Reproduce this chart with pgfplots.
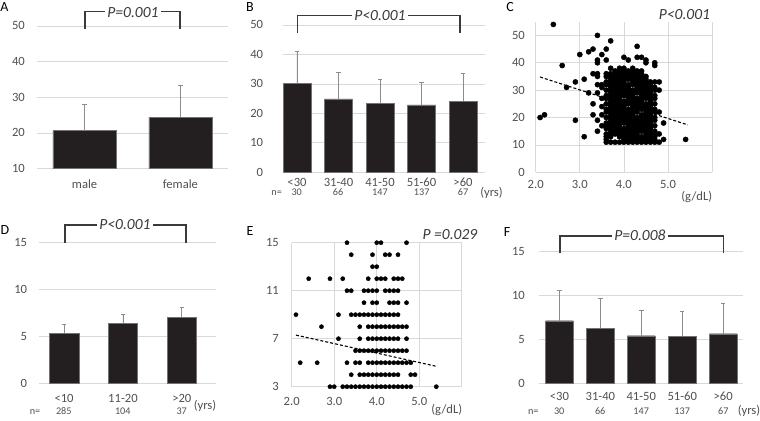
\documentclass[border=0pt]{standalone}
\usepackage{fontspec}
\setmainfont{Carlito}
\usepackage{pgfplots}
\pgfplotsset{compat=1.18}

\definecolor{barfill}{HTML}{231F20}
\definecolor{tickgray}{HTML}{505050}
\definecolor{gridgray}{HTML}{D9D9D9}
\definecolor{errgray}{HTML}{8C8C8C}
\definecolor{brk}{HTML}{3A3A3A}

\newcommand\tl{\fontsize{12.6bp}{14bp}\selectfont}
\newcommand\nl{\fontsize{10.2bp}{12bp}\selectfont}
\newcommand\pl{\fontsize{15.5bp}{18bp}\selectfont\itshape}
\newcommand\lt{\fontsize{14bp}{16bp}\selectfont}

\pgfplotsset{
  panel/.style={scale only axis, anchor=south west,
    axis line style={draw=none}, major tick length=0pt,
    tick label style={font=\tl, text=tickgray},
    grid style={draw=gridgray, line width=0.75bp},
    /pgf/number format/assume math mode=true,
    yticklabel style={anchor=east, inner sep=0pt, text height=7.8bp, text depth=0pt},
    xticklabel style={anchor=center, inner sep=0pt, text height=7.8bp, text depth=0pt}},
  bars/.style={panel, ybar, ymajorgrids},
  barplot/.style={fill=barfill, draw=black!55, line width=0.4bp,
    error bars/.cd, y dir=plus, y explicit, error mark=-,
    error bar style={errgray, line width=0.8bp},
    error mark options={rotate=90, errgray, mark size=2.2bp, line width=0.8bp}},
  dots/.style={only marks, mark=*, mark options={fill=black, draw=black}},
  trend/.style={black, line width=1.1bp, dash pattern=on 3bp off 2bp, no marks}
}

\begin{document}
\begin{tikzpicture}
\path[use as bounding box] (0,0) rectangle (760bp,421bp);

% A
\begin{axis}[bars, at={(36.7bp,252.3bp)}, width=191.6bp, height=142.7bp,
  xmin=-0.5, xmax=1.5, ymin=10, ymax=50, ytick={10,20,30,40,50},
  bar width=0.66, xtick={0,1}, xticklabels={male,female},
  yticklabel style={xshift=-11.7bp}, xticklabel style={yshift=-16.3bp}]
\addplot[barplot] coordinates {(0,20.7) +- (0,7.4) (1,24.4) +- (0,9.0)};
\end{axis}

% B
\begin{axis}[bars, at={(283.3bp,248.7bp)}, width=201.7bp, height=147.3bp,
  xmin=-0.33, xmax=4.53, ymin=0, ymax=50, ytick={0,10,20,30,40,50},
  bar width=0.67, xtick={0,1,2,3,4}, xticklabels={<30,31-40,41-50,51-60,>60},
  yticklabel style={xshift=-20bp}, xticklabel style={yshift=-10.4bp}]
\addplot[barplot] coordinates {(0,30.2) +- (0,10.9) (1,24.9) +- (0,9.1)
  (2,23.4) +- (0,8.3) (3,22.9) +- (0,7.6) (4,24.2) +- (0,9.5)};
\end{axis}

% C
\begin{axis}[panel, at={(535.7bp,248.7bp)}, width=176.4bp, height=150.6bp,
  xmin=2, xmax=6, ymin=0, ymax=55, clip=false,
  xmajorgrids, ymajorgrids, ytick={0,10,20,30,40,50},
  xtick={2,3,4,5,6}, xticklabels={2.0,3.0,4.0,5.0,},
  yticklabel style={xshift=-10.7bp}, xticklabel style={yshift=-12bp}]
\addplot[dots, mark size=2.6bp] coordinates {
(2.1,20)(2.2,21)(2.4,54)(2.6,39)(2.7,31)(2.9,33)(2.9,19)(3.0,43)(3.1,34)(3.1,13)
(3.2,29)(3.2,44)(3.3,45)(3.3,36)(3.3,25)(3.3,21)(3.4,50)(3.4,41)(3.4,40)(3.4,36)
(3.4,35)(3.4,32)(3.4,29)(3.4,19)(3.4,15)(3.5,43)(3.5,32)(3.5,31)(3.5,27)(3.5,24)
(3.5,21)(3.5,17)(3.6,45)(3.6,41)(3.7,48)(3.7,38)(4.0,42)(4.1,41)(4.3,46)(4.3,42)
(4.4,42)(4.5,41)(4.5,40)(4.7,40)(4.7,39)(4.9,12)(4.9,18)(5.4,12)
(3.6,11)(3.6,12)(3.6,13)(3.6,14)(3.6,16)(3.6,17)(3.6,18)(3.6,20)(3.6,22)(3.6,23)
(3.6,25)(3.6,27)(3.6,28)(3.6,30)(3.6,32)(3.6,33)(3.6,35)(3.6,36)
(3.7,11)(3.7,13)(3.7,14)(3.7,15)(3.7,16)(3.7,17)(3.7,18)(3.7,19)(3.7,20)(3.7,21)
(3.7,22)(3.7,23)(3.7,24)(3.7,25)(3.7,26)(3.7,27)(3.7,28)(3.7,29)(3.7,30)(3.7,31)
(3.7,32)(3.7,33)(3.7,34)(3.7,35)(3.7,36)
(3.8,11)(3.8,14)(3.8,15)(3.8,16)(3.8,17)(3.8,18)(3.8,19)(3.8,20)(3.8,21)(3.8,22)
(3.8,23)(3.8,24)(3.8,25)(3.8,26)(3.8,27)(3.8,28)(3.8,29)(3.8,30)(3.8,31)(3.8,32)
(3.8,33)(3.8,34)(3.8,35)(3.8,36)(3.8,37)
(3.9,11)(3.9,13)(3.9,14)(3.9,15)(3.9,16)(3.9,17)(3.9,18)(3.9,19)(3.9,20)(3.9,21)
(3.9,22)(3.9,23)(3.9,24)(3.9,25)(3.9,26)(3.9,27)(3.9,28)(3.9,29)(3.9,30)(3.9,31)
(3.9,32)(3.9,33)(3.9,34)(3.9,35)(3.9,36)(3.9,37)(3.9,38)
(4.0,11)(4.0,12)(4.0,13)(4.0,14)(4.0,15)(4.0,16)(4.0,18)(4.0,19)(4.0,20)(4.0,21)
(4.0,22)(4.0,23)(4.0,24)(4.0,25)(4.0,26)(4.0,28)(4.0,29)(4.0,30)(4.0,31)(4.0,32)
(4.0,33)(4.0,34)(4.0,35)(4.0,36)(4.0,37)(4.0,38)
(4.1,11)(4.1,12)(4.1,13)(4.1,14)(4.1,15)(4.1,16)(4.1,17)(4.1,18)(4.1,19)(4.1,20)
(4.1,21)(4.1,22)(4.1,23)(4.1,25)(4.1,26)(4.1,27)(4.1,28)(4.1,29)(4.1,30)(4.1,31)
(4.1,32)(4.1,34)(4.1,35)(4.1,36)(4.1,37)
(4.2,11)(4.2,12)(4.2,13)(4.2,14)(4.2,15)(4.2,16)(4.2,17)(4.2,18)(4.2,19)(4.2,20)
(4.2,21)(4.2,22)(4.2,23)(4.2,24)(4.2,25)(4.2,26)(4.2,27)(4.2,28)(4.2,29)(4.2,30)
(4.2,32)(4.2,33)(4.2,34)(4.2,35)(4.2,36)(4.2,37)(4.2,38)
(4.3,11)(4.3,12)(4.3,13)(4.3,14)(4.3,15)(4.3,16)(4.3,17)(4.3,18)(4.3,19)(4.3,20)
(4.3,22)(4.3,23)(4.3,24)(4.3,25)(4.3,26)(4.3,27)(4.3,29)(4.3,30)(4.3,31)(4.3,32)
(4.3,33)(4.3,34)(4.3,35)(4.3,36)(4.3,37)
(4.4,11)(4.4,12)(4.4,13)(4.4,15)(4.4,16)(4.4,17)(4.4,18)(4.4,19)(4.4,20)(4.4,21)
(4.4,23)(4.4,24)(4.4,25)(4.4,26)(4.4,27)(4.4,28)(4.4,29)(4.4,30)(4.4,31)(4.4,32)
(4.4,33)(4.4,34)(4.4,35)(4.4,36)(4.4,37)
(4.5,11)(4.5,12)(4.5,13)(4.5,14)(4.5,15)(4.5,16)(4.5,17)(4.5,18)(4.5,19)(4.5,20)
(4.5,21)(4.5,22)(4.5,23)(4.5,24)(4.5,25)(4.5,27)(4.5,28)(4.5,29)(4.5,30)(4.5,31)
(4.5,32)(4.5,33)(4.5,34)(4.5,35)
(4.6,11)(4.6,12)(4.6,13)(4.6,14)(4.6,15)(4.6,16)(4.6,17)(4.6,18)(4.6,19)(4.6,20)
(4.6,21)(4.6,22)(4.6,23)(4.6,24)(4.6,25)(4.6,26)(4.6,27)(4.6,28)(4.6,29)(4.6,30)
(4.6,31)(4.6,32)(4.6,33)
(4.7,11)(4.7,12)(4.7,13)(4.7,14)(4.7,15)(4.7,17)(4.7,19)(4.7,20)(4.7,22)(4.7,23)
(4.7,25)(4.7,27)(4.7,28)(4.7,30)(4.7,31)(4.7,33)
(4.8,11)(4.8,14)(4.8,22)(4.8,30)(4.8,33)};
\addplot[trend] coordinates {(2.1,34.8) (5.45,17.3)};
\end{axis}

% D
\begin{axis}[bars, at={(39.3bp,37.7bp)}, width=176.7bp, height=140.6bp,
  xmin=-0.42, xmax=2.58, ymin=0, ymax=15, ytick={0,5,10,15},
  bar width=0.5, xtick={0,1,2}, xticklabels={<10,11-20,>20},
  yticklabel style={xshift=-12bp}, xticklabel style={yshift=-15bp}]
\addplot[barplot] coordinates {(0,5.33) +- (0,1.0) (1,6.4) +- (0,1.0) (2,7.04) +- (0,1.06)};
\end{axis}

% E
\begin{axis}[panel, at={(291.7bp,34.3bp)}, width=170.1bp, height=144bp,
  xmin=2, xmax=6, ymin=3, ymax=15, clip=false,
  xmajorgrids, ymajorgrids, ytick={3,7,11,15},
  xtick={2,3,4,5,6}, xticklabels={2.0,3.0,4.0,5.0,},
  yticklabel style={xshift=-12.7bp}, xticklabel style={yshift=-15bp}]
\addplot[dots, mark size=2.1bp] coordinates {
(3.3,15)(4.0,15)(4.1,15)(4.7,15)
(3.4,14)(3.9,14)(4.2,14)(4.3,14)(4.5,14)
(3.9,13)(4.0,13)
(2.4,12)(2.9,12)(3.2,12)(3.8,12)(4.0,12)(4.1,12)(4.2,12)(4.4,12)(4.5,12)(4.6,12)
(3.3,11)(3.4,11)(3.7,11)(3.8,11)(3.9,11)(4.0,11)(4.2,11)(4.3,11)(4.4,11)(4.5,11)
(3.7,10)(3.9,10)(4.0,10)(4.3,10)(4.4,10)(4.5,10)(4.7,10)
(2.1,9)(3.1,9)(3.4,9)(3.5,9)(3.6,9)(3.7,9)(3.8,9)(3.9,9)(4.0,9)(4.1,9)(4.2,9)(4.3,9)(4.4,9)(4.5,9)
(2.7,8)(3.6,8)(3.8,8)(3.9,8)(4.0,8)(4.1,8)(4.2,8)(4.3,8)(4.4,8)(4.5,8)(4.6,8)(4.7,8)
(3.1,7)(3.6,7)(3.8,7)(3.9,7)(4.0,7)(4.1,7)(4.2,7)(4.3,7)(4.4,7)(4.5,7)(4.7,7)
(3.5,6)(3.6,6)(3.7,6)(3.8,6)(3.9,6)(4.0,6)(4.1,6)(4.2,6)(4.3,6)(4.4,6)(4.5,6)(4.6,6)(4.7,6)
(2.2,5)(2.6,5)(3.3,5)(3.5,5)(3.6,5)(3.8,5)(3.9,5)(4.0,5)(4.1,5)(4.2,5)(4.3,5)(4.4,5)(4.5,5)(4.6,5)(4.7,5)(4.8,5)
(3.4,4)(3.6,4)(3.7,4)(3.8,4)(3.9,4)(4.0,4)(4.1,4)(4.2,4)(4.3,4)(4.4,4)(4.5,4)(4.8,4)(4.9,4)
(2.9,3)(3.0,3)(3.2,3)(3.3,3)(3.4,3)(3.5,3)(3.6,3)(3.7,3)(3.8,3)(3.9,3)(4.0,3)(4.1,3)(4.2,3)(4.3,3)(4.4,3)(4.5,3)(4.6,3)(4.7,3)(4.8,3)(5.4,3)};
\addplot[trend] coordinates {(2.1,7.3) (5.4,4.7)};
\end{axis}

% F
\begin{axis}[bars, at={(539.3bp,37.7bp)}, width=204bp, height=131.6bp,
  xmin=-0.49, xmax=4.49, ymin=0, ymax=15, ytick={0,5,10,15},
  bar width=0.675, xtick={0,1,2,3,4}, xticklabels={<30,31-40,41-50,51-60,>60},
  yticklabel style={xshift=-14.3bp}, xticklabel style={yshift=-13.4bp}]
\addplot[barplot] coordinates {(0,7.13) +- (0,3.42) (1,6.26) +- (0,3.42)
  (2,5.42) +- (0,2.85) (3,5.39) +- (0,2.81) (4,5.65) +- (0,3.46)};
\end{axis}

% annotations, in pixel coordinates measured from the top left
\begin{scope}[x=1bp, y=-1bp, yshift=421bp,
  lab/.style={inner sep=0pt, font=\lt, text height=9bp, text depth=0pt},
  pv/.style={font=\pl, text=brk, fill=white, inner xsep=2bp, inner ysep=0pt, text height=10bp, text depth=0pt},
  nn/.style={font=\nl, text=tickgray, inner sep=0pt, text height=6.5bp, text depth=0pt},
  un/.style={font=\tl, text=tickgray, inner sep=0pt}]
\node[lab] at (4.5,7) {A};
\node[lab] at (250,7) {B};
\node[lab] at (510,7) {C};
\node[lab] at (5,230) {D};
\node[lab] at (250,231) {E};
\node[lab] at (507,232) {F};

\draw[brk, line width=1.1bp] (85,29) -- (85,11.7) -- (180,11.7) -- (180,29);
\draw[brk, line width=1.1bp] (297.3,32.7) -- (297.3,15.7) -- (460,15.7) -- (460,32.7);
\draw[brk, line width=1.1bp] (65,242.7) -- (65,225) -- (186,225) -- (186,242.7);
\draw[brk, line width=1.1bp] (560,253.3) -- (560,236) -- (723.3,236) -- (723.3,253.3);

\node[pv] at (133,12.3) {P=0.001};
\node[pv] at (380,15.7) {P<0.001};
\node[pv] at (684.5,15) {P<0.001};
\node[pv] at (125,225) {P<0.001};
\node[pv] at (450,235) {P =0.029};
\node[pv] at (640,236) {P=0.008};

\node[nn] at (276.7,192.7) {n=};
\node[nn] at (296.7,192.7) {30};
\node[nn] at (338,192.7) {66};
\node[nn] at (380,192.7) {147};
\node[nn] at (421.7,192.7) {137};
\node[nn] at (463,192.7) {67};

\node[nn] at (35,411.7) {n=};
\node[nn] at (63.8,411.7) {285};
\node[nn] at (122.8,411.7) {104};
\node[nn] at (181.7,411.7) {37};

\node[nn] at (533.3,411.7) {n=};
\node[nn] at (559.2,411.7) {30};
\node[nn] at (600.2,411.7) {66};
\node[nn] at (641.2,411.7) {147};
\node[nn] at (682.2,411.7) {137};
\node[nn] at (723.3,411.7) {67};

\node[un] at (491.5,192.5) {(yrs)};
\node[un] at (205,406) {(yrs)};
\node[un] at (749,411) {(yrs)};
\node[un] at (696.7,196.7) {(g/dL)};
\node[un] at (446.7,410) {(g/dL)};
\end{scope}
\end{tikzpicture}
\end{document}
